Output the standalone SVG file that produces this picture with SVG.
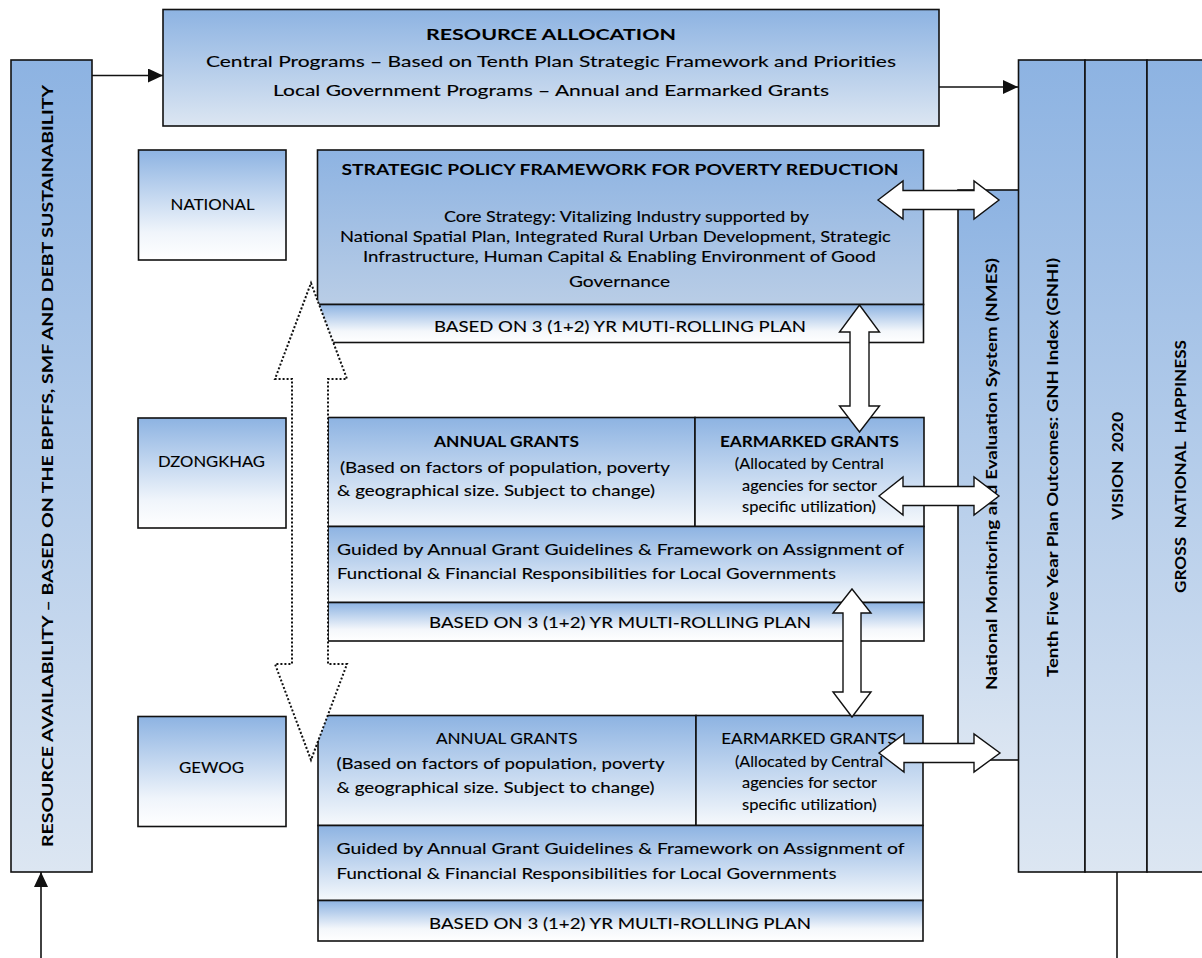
<svg xmlns="http://www.w3.org/2000/svg" width="1202" height="958" viewBox="0 0 1202 958">
<style>
.box{stroke:#111;stroke-width:1.6}
.t{font-family:Lato,"Liberation Sans",sans-serif;fill:#000;font-size:16px;stroke:#000;stroke-width:0.12}
.b{font-weight:bold;stroke:none}
.m{text-anchor:middle}
.ln{stroke:#111;stroke-width:1.6;fill:none}
.ar{fill:#fff;stroke:#111;stroke-width:1.4;stroke-linejoin:miter}
.dot{fill:#fff;stroke:#111;stroke-width:2;stroke-dasharray:2 2}
</style>
<defs>
<linearGradient id="gA" x1="0" y1="0" x2="0" y2="1"><stop offset="0" stop-color="#8DB3E2"/><stop offset="1" stop-color="#DCE6F2"/></linearGradient>
<linearGradient id="gL" x1="0" y1="0" x2="0" y2="1"><stop offset="0" stop-color="#8DB3E2"/><stop offset="0.75" stop-color="#F0F5FB"/><stop offset="1" stop-color="#FFFFFF"/></linearGradient>
<linearGradient id="gS" x1="0" y1="0" x2="0" y2="1"><stop offset="0" stop-color="#8DB3E2"/><stop offset="1" stop-color="#B9CDE6"/></linearGradient>
<linearGradient id="gR" x1="0" y1="0" x2="0" y2="1"><stop offset="0" stop-color="#8DB3E2"/><stop offset="1" stop-color="#F6F9FC"/></linearGradient>
<linearGradient id="gB" x1="0" y1="0" x2="0" y2="1"><stop offset="0" stop-color="#8DB3E2"/><stop offset="0.7" stop-color="#F4F7FB"/><stop offset="1" stop-color="#FFFFFF"/></linearGradient>
<linearGradient id="gC" x1="0" y1="0" x2="0" y2="1"><stop offset="0" stop-color="#8DB3E2"/><stop offset="1" stop-color="#DCE6F2"/></linearGradient>
<marker id="ah" markerUnits="userSpaceOnUse" markerWidth="16" markerHeight="14" refX="15" refY="7" orient="auto"><path d="M0,0 L15,7 L0,14 Z" fill="#111"/></marker>
</defs>

<g id="resource-availability">
<rect class="box" x="11" y="60" width="81" height="812" fill="url(#gC)"/>
<text class="t b m" font-size="18" transform="translate(53,466) rotate(-90)" textLength="762" lengthAdjust="spacingAndGlyphs">RESOURCE AVAILABILITY – BASED ON THE BPFFS, SMF AND DEBT SUSTAINABILITY</text>
</g>

<g id="resource-allocation">
<rect class="box" x="163" y="9.5" width="776" height="116.5" fill="url(#gA)"/>
<text class="t b m" x="551" y="40" font-size="21" textLength="250" lengthAdjust="spacingAndGlyphs">RESOURCE ALLOCATION</text>
<text class="t m" x="551" y="66.7" font-size="18.5" textLength="690" lengthAdjust="spacingAndGlyphs">Central Programs – Based on Tenth Plan Strategic Framework and Priorities</text>
<text class="t m" x="551" y="95.5" font-size="18.5" textLength="556" lengthAdjust="spacingAndGlyphs">Local Government Programs – Annual and Earmarked Grants</text>
</g>

<g id="national">
<rect class="box" x="138.5" y="150" width="147.5" height="110" fill="url(#gL)"/>
<text class="t m" x="212.6" y="210" font-size="16.5" textLength="84" lengthAdjust="spacingAndGlyphs">NATIONAL</text>
</g>
<g id="dzongkhag">
<rect class="box" x="138" y="418" width="148" height="110" fill="url(#gL)"/>
<text class="t m" x="211.5" y="467" font-size="16.5" textLength="107" lengthAdjust="spacingAndGlyphs">DZONGKHAG</text>
</g>
<g id="gewog">
<rect class="box" x="138" y="716.5" width="148" height="110" fill="url(#gL)"/>
<text class="t m" x="211.5" y="772.7" font-size="16.5" textLength="65" lengthAdjust="spacingAndGlyphs">GEWOG</text>
</g>

<g id="strategic-policy">
<rect class="box" x="317.5" y="150" width="606" height="154.5" fill="url(#gS)"/>
<text class="t b m" x="620" y="175" font-size="16" textLength="557" lengthAdjust="spacingAndGlyphs">STRATEGIC POLICY FRAMEWORK FOR POVERTY REDUCTION</text>
<text class="t m" x="626.5" y="221.7" font-size="15.5" textLength="365" lengthAdjust="spacingAndGlyphs">Core Strategy: Vitalizing Industry supported by</text>
<text class="t m" x="615.4" y="242.3" font-size="15.5" textLength="551" lengthAdjust="spacingAndGlyphs">National Spatial Plan, Integrated Rural Urban Development, Strategic</text>
<text class="t m" x="619.5" y="262" font-size="15.5" textLength="513" lengthAdjust="spacingAndGlyphs">Infrastructure, Human Capital &amp; Enabling Environment of Good</text>
<text class="t m" x="619.5" y="287" font-size="15.5" textLength="101" lengthAdjust="spacingAndGlyphs">Governance</text>
</g>
<g id="national-plan">
<rect class="box" x="317.5" y="304.5" width="606" height="38" fill="url(#gB)"/>
<text class="t m" x="620" y="332" font-size="16" textLength="372" lengthAdjust="spacingAndGlyphs">BASED ON 3 (1+2) YR MUTI-ROLLING PLAN</text>
</g>

<g id="dz-annual">
<rect class="box" x="328" y="417.5" width="367" height="109" fill="url(#gR)"/>
<text class="t b m" x="506.5" y="446.7" font-size="16" textLength="145" lengthAdjust="spacingAndGlyphs">ANNUAL GRANTS</text>
<text class="t m" x="505" y="473" font-size="16" textLength="330" lengthAdjust="spacingAndGlyphs">(Based on factors of population, poverty</text>
<text class="t m" x="496" y="496" font-size="16" textLength="318" lengthAdjust="spacingAndGlyphs">&amp; geographical size. Subject to change)</text>
</g>
<g id="dz-earmarked">
<rect class="box" x="695" y="417.5" width="229" height="109" fill="url(#gR)"/>
<text class="t b m" x="809.5" y="446.7" font-size="16" textLength="179" lengthAdjust="spacingAndGlyphs">EARMARKED GRANTS</text>
<text class="t m" x="809.3" y="469" font-size="14" textLength="149" lengthAdjust="spacingAndGlyphs">(Allocated by Central</text>
<text class="t m" x="809.5" y="490.7" font-size="14" textLength="135" lengthAdjust="spacingAndGlyphs">agencies for sector</text>
<text class="t m" x="809" y="512" font-size="14" textLength="134" lengthAdjust="spacingAndGlyphs">specific utilization)</text>
</g>
<g id="dz-guided">
<rect class="box" x="328" y="526.5" width="596" height="76" fill="url(#gR)"/>
<text class="t" x="337" y="555" font-size="16" textLength="567" lengthAdjust="spacingAndGlyphs">Guided by Annual Grant Guidelines &amp; Framework on Assignment of</text>
<text class="t" x="337" y="579" font-size="16" textLength="499" lengthAdjust="spacingAndGlyphs">Functional &amp; Financial Responsibilities for Local Governments</text>
</g>
<g id="dz-plan">
<rect class="box" x="328" y="602.5" width="596" height="38.5" fill="url(#gB)"/>
<text class="t m" x="620" y="628" font-size="16" textLength="382" lengthAdjust="spacingAndGlyphs">BASED ON 3 (1+2) YR MULTI-ROLLING PLAN</text>
</g>

<g id="gw-annual">
<rect class="box" x="318" y="715.5" width="378" height="110" fill="url(#gR)"/>
<text class="t m" x="506.7" y="744" font-size="16" textLength="141.5" lengthAdjust="spacingAndGlyphs">ANNUAL GRANTS</text>
<text class="t" x="336.6" y="769" font-size="16" textLength="328" lengthAdjust="spacingAndGlyphs">(Based on factors of population, poverty</text>
<text class="t" x="336.6" y="792.7" font-size="16" textLength="318" lengthAdjust="spacingAndGlyphs">&amp; geographical size. Subject to change)</text>
</g>
<g id="gw-earmarked">
<rect class="box" x="696" y="715.5" width="227" height="110" fill="url(#gR)"/>
<text class="t m" x="809" y="744" font-size="16" textLength="175.5" lengthAdjust="spacingAndGlyphs">EARMARKED GRANTS</text>
<text class="t m" x="809" y="767" font-size="14" textLength="148" lengthAdjust="spacingAndGlyphs">(Allocated by Central</text>
<text class="t m" x="809.5" y="788" font-size="14" textLength="135" lengthAdjust="spacingAndGlyphs">agencies for sector</text>
<text class="t m" x="809.3" y="810" font-size="14" textLength="134.6" lengthAdjust="spacingAndGlyphs">specific utilization)</text>
</g>
<g id="gw-guided">
<rect class="box" x="318" y="825.5" width="605" height="75" fill="url(#gR)"/>
<text class="t" x="336.6" y="854" font-size="16" textLength="568" lengthAdjust="spacingAndGlyphs">Guided by Annual Grant Guidelines &amp; Framework on Assignment of</text>
<text class="t" x="336.6" y="879" font-size="16" textLength="500" lengthAdjust="spacingAndGlyphs">Functional &amp; Financial Responsibilities for Local Governments</text>
</g>
<g id="gw-plan">
<rect class="box" x="318" y="900.5" width="605" height="40.5" fill="url(#gB)"/>
<text class="t m" x="620" y="928.7" font-size="16" textLength="382" lengthAdjust="spacingAndGlyphs">BASED ON 3 (1+2) YR MULTI-ROLLING PLAN</text>
</g>

<g id="nmes">
<rect class="box" x="958" y="190" width="61" height="570" fill="url(#gC)"/>
<text class="t b m" font-size="16" transform="translate(997,474) rotate(-90)" textLength="432" lengthAdjust="spacingAndGlyphs">National Monitoring and Evaluation System (NMES)</text>
</g>
<g id="tenth-plan">
<rect class="box" x="1018.5" y="60" width="66.5" height="812" fill="url(#gC)"/>
<text class="t b m" font-size="16" transform="translate(1058,467.5) rotate(-90)" textLength="419" lengthAdjust="spacingAndGlyphs">Tenth Five Year Plan Outcomes: GNH Index (GNHI)</text>
</g>
<g id="vision-2020">
<rect class="box" x="1085" y="60" width="62" height="812" fill="url(#gC)"/>
<text class="t b m" font-size="16" xml:space="preserve" transform="translate(1123,466) rotate(-90)" textLength="108" lengthAdjust="spacingAndGlyphs">VISION  2020</text>
</g>
<g id="gnh">
<rect class="box" x="1147" y="60" width="70" height="812" fill="url(#gC)"/>
<text class="t b m" font-size="16" xml:space="preserve" transform="translate(1186,466.5) rotate(-90)" textLength="253" lengthAdjust="spacingAndGlyphs">GROSS  NATIONAL  HAPPINESS</text>
</g>

<g id="connectors">
<line class="ln" x1="92" y1="75.5" x2="163" y2="75.5" marker-end="url(#ah)"/>
<line class="ln" x1="939" y1="87" x2="1018" y2="87" marker-end="url(#ah)"/>
<line class="ln" x1="41" y1="958" x2="41" y2="872" marker-end="url(#ah)"/>
<line class="ln" x1="1117" y1="872" x2="1117" y2="958"/>
<path class="dot" d="M311,283 L347,379 L328,379 L328,664 L347,664 L311,760 L275,664 L292,664 L292,379 L275,379 Z"/>
<path class="ar" d="M878,200 L903,181 L903,190.5 L974,190.5 L974,181 L999,200 L974,219 L974,209.5 L903,209.5 L903,219 Z"/>
<path class="ar" d="M879,496 L903,477 L903,486.5 L974,486.5 L974,477 L999,496 L974,515 L974,505.5 L903,505.5 L903,515 Z"/>
<path class="ar" d="M879,753 L904,734 L904,743.5 L974,743.5 L974,734 L1000,753 L974,772 L974,762.5 L904,762.5 L904,772 Z"/>
<path class="ar" d="M859.5,305 L879.5,332 L869,332 L869,406 L879.5,406 L859.5,432 L839.5,406 L850,406 L850,332 L839.5,332 Z"/>
<path class="ar" d="M852,589 L871,613 L861,613 L861,692 L871,692 L852,717 L833,692 L843,692 L843,613 L833,613 Z"/>
</g>
</svg>
